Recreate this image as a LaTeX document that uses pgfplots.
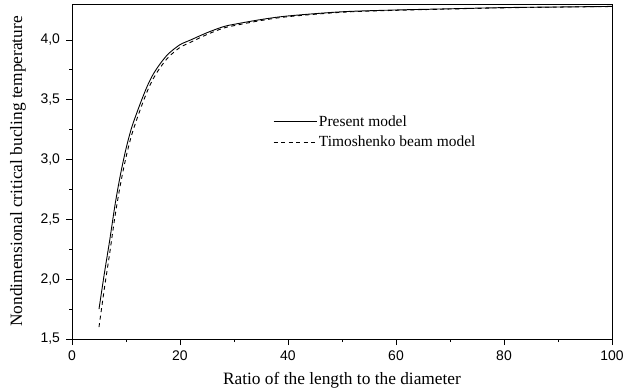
\documentclass[border=0pt]{standalone}
\usepackage{fontspec}
\setmainfont{Liberation Serif}
\setsansfont{Liberation Sans}
\usepackage{pgfplots}
\pgfplotsset{compat=1.18}
\begin{document}
\begin{tikzpicture}
\begin{axis}[
  scale only axis,
  width=540bp, height=335bp,
  xmin=0, xmax=100, ymin=1.5, ymax=4.3,
  xtick={0,20,40,60,80,100},
  ytick={1.5,2.0,2.5,3.0,3.5,4.0},
  minor x tick num=1,
  minor y tick num=1,
  tick align=outside,
  xtick pos=left, ytick pos=left,
  major tick length=6bp, minor tick length=3bp,
  axis line style={line width=0.8pt},
  tick style={line width=0.7pt, black},
  /pgf/number format/assume math mode=true,
  ticklabel style={font=\fontsize{14}{16}\selectfont\sffamily},
  yticklabel style={/pgf/number format/.cd, fixed, fixed zerofill, precision=1, use comma, /tikz/.cd, xshift=-2.5bp},
  xticklabel style={/pgf/number format/.cd, fixed, precision=0, /tikz/.cd, yshift=-2.5bp},
  xlabel={Ratio of the length to the diameter},
  ylabel={Nondimensional critical bucling temperature},
  label style={font=\fontsize{17.4}{19}\selectfont},
  xlabel style={at={(axis description cs:0.5,-0.124)}, anchor=center},
  ylabel style={at={(axis description cs:-0.1,0.5)}, anchor=center},
  legend style={draw=none, fill=none, at={(axis cs:37.2,3.23)}, anchor=west,
    font=\fontsize{15.5}{17}\selectfont, row sep=4bp, inner sep=0pt},
  legend cell align=left,
  legend image code/.code={\draw[#1] (0bp,0bp) -- (43bp,0bp);},
]
\addplot[black, line width=0.9pt, smooth] coordinates {
(5,1.75) (6,2.05) (7,2.33) (8,2.63) (9,2.88) (10,3.09) (11,3.26) (12,3.39)
(13,3.51) (14,3.62) (15,3.71) (16,3.78) (17,3.84) (18,3.89) (20,3.96)
(22,4.00) (25,4.06) (28,4.11) (30,4.13) (35,4.17) (40,4.20) (50,4.235)
(60,4.25) (70,4.26) (80,4.27) (90,4.275) (100,4.28)
};
\addlegendentry{Present model}
\addplot[black, line width=0.9pt, smooth, dash pattern=on 4bp off 3.5bp] coordinates {
(5,1.60) (6,1.924) (7,2.223) (8,2.537) (9,2.799) (10,3.019) (11,3.198) (12,3.336)
(13,3.462) (14,3.577) (15,3.672) (16,3.746) (17,3.809) (18,3.862) (20,3.937)
(22,3.981) (25,4.045) (28,4.098) (30,4.119) (35,4.162) (40,4.194) (50,4.231)
(60,4.247) (70,4.258) (80,4.268) (90,4.274) (100,4.279)
};
\addlegendentry{Timoshenko beam model}
\end{axis}
\pgfresetboundingbox
\useasboundingbox ([shift={(-72bp,-53bp)}]current axis.south west) rectangle ([shift={(12bp,4bp)}]current axis.north east);
\end{tikzpicture}
\end{document}
